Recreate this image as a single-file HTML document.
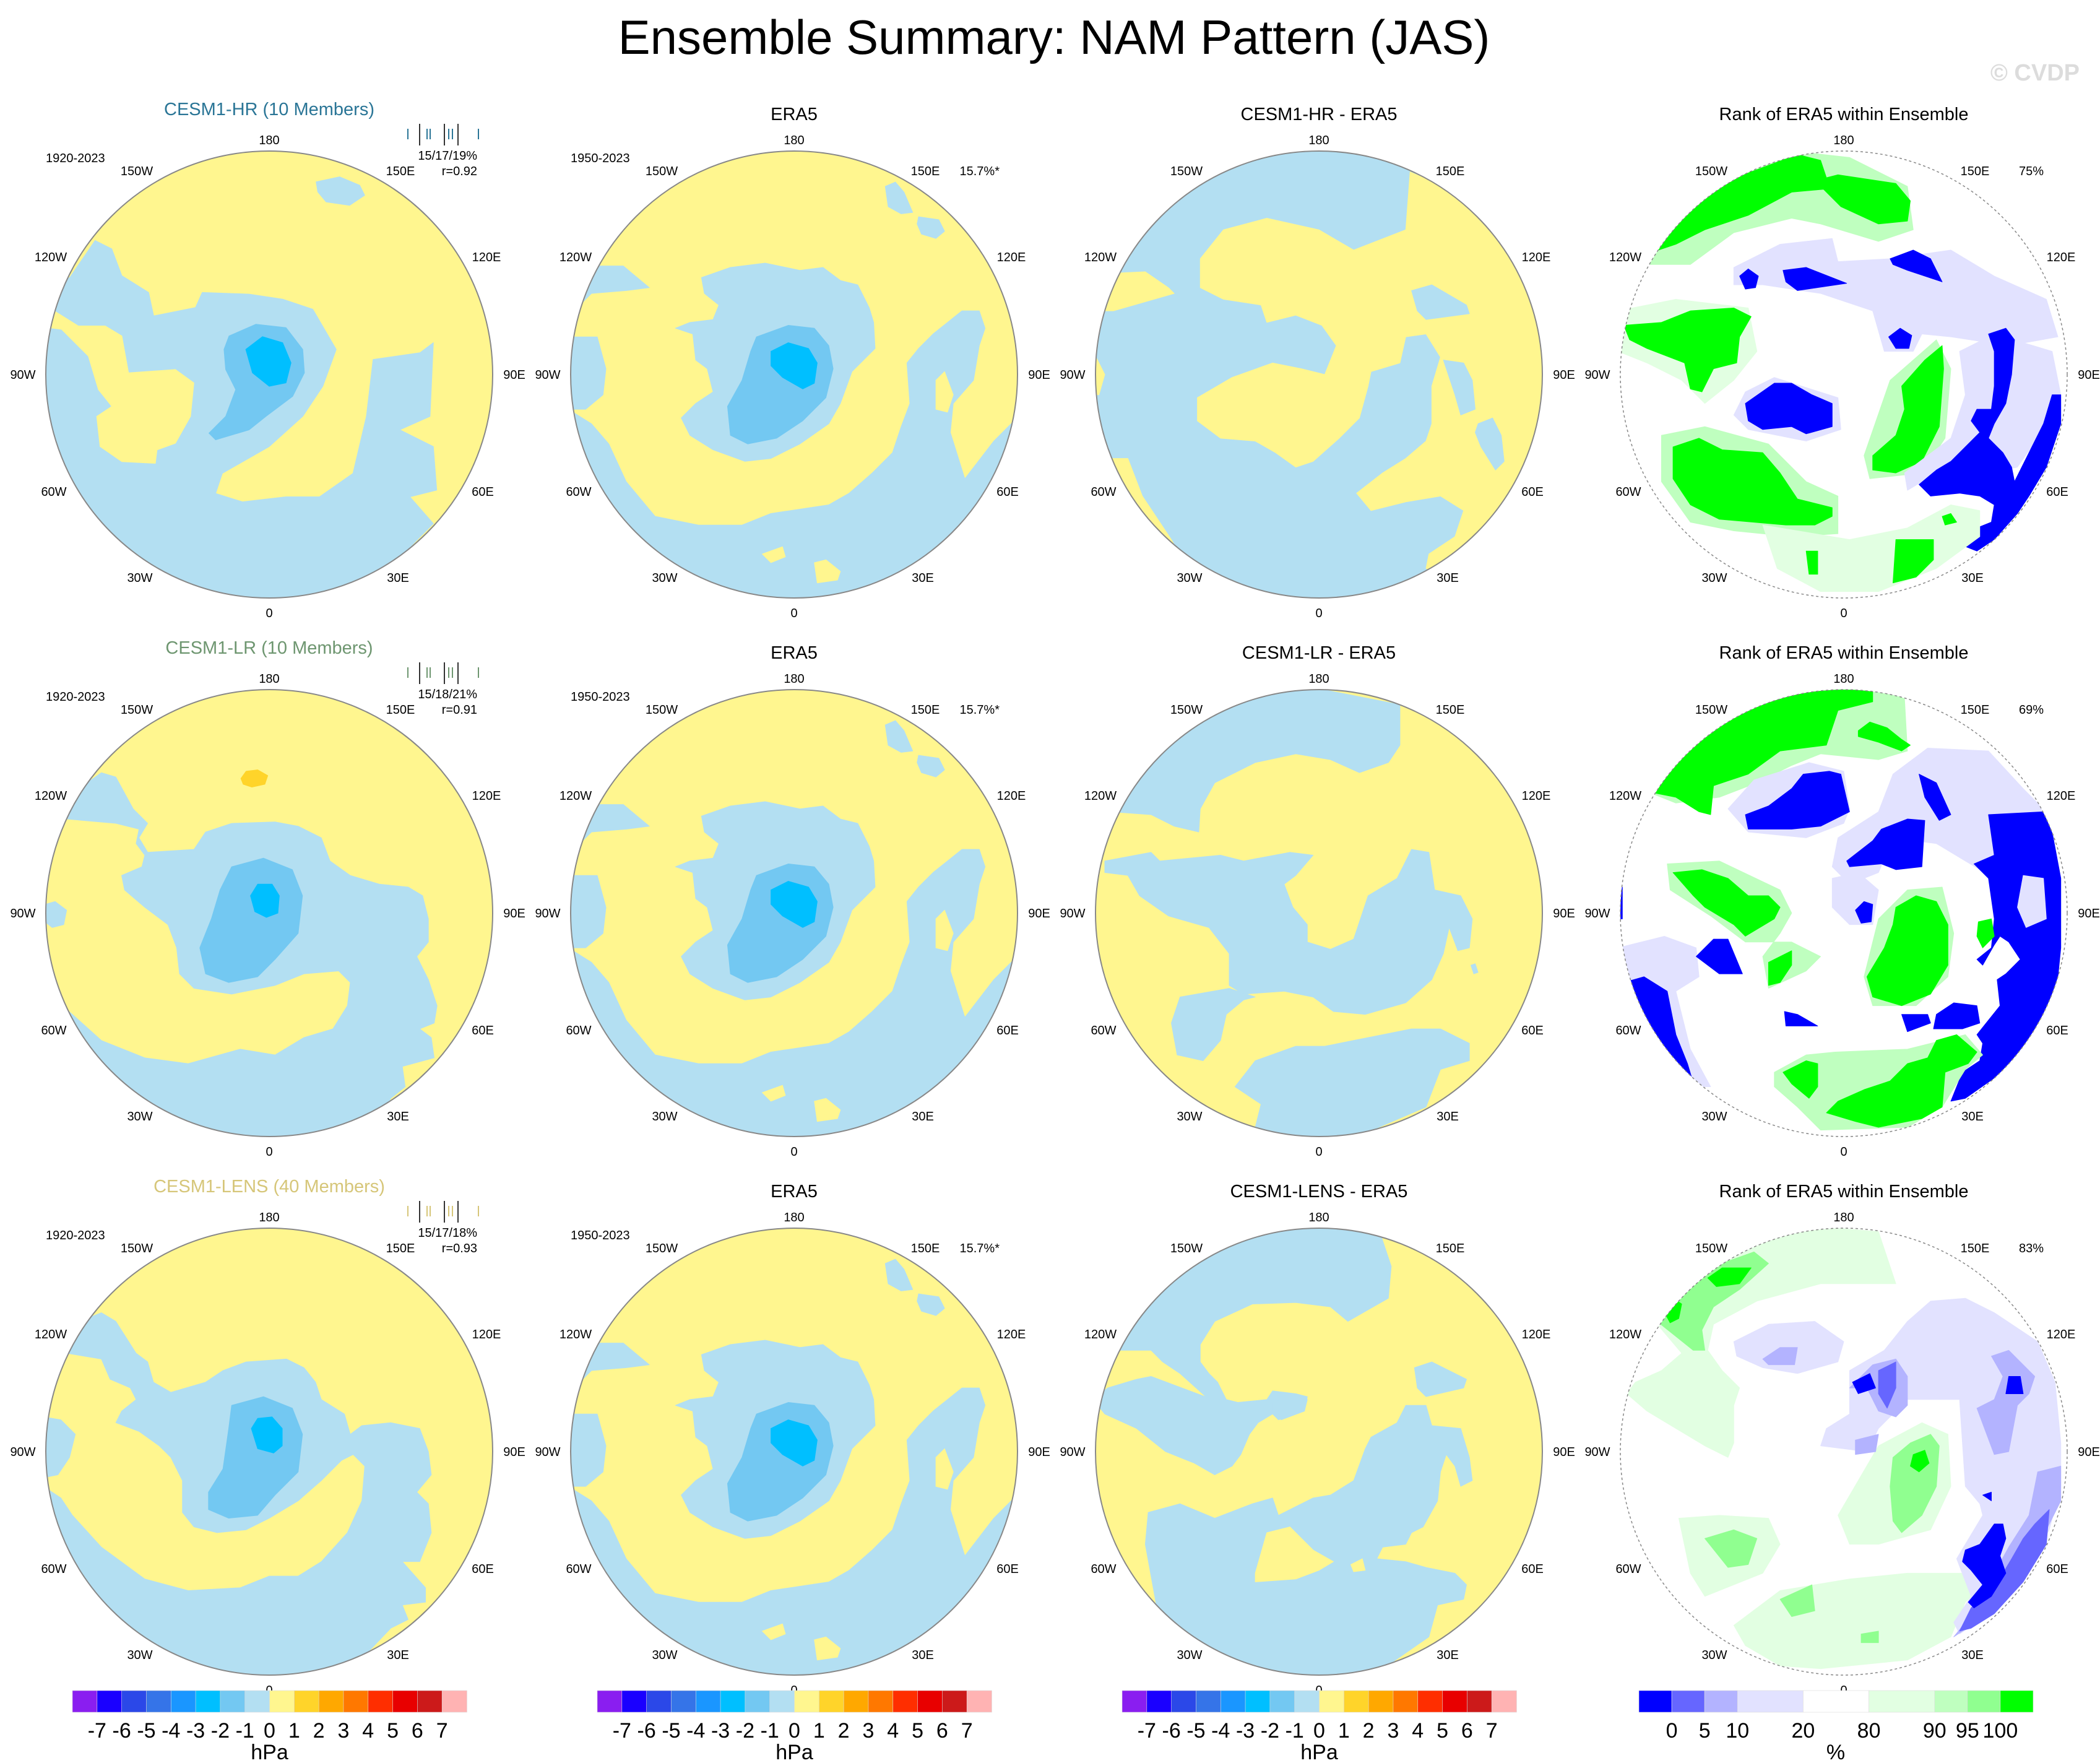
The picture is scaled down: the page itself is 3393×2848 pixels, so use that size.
<!DOCTYPE html>
<html><head><meta charset="utf-8"><title>Ensemble Summary: NAM Pattern (JAS)</title>
<style>
html,body{margin:0;padding:0;background:#fff;}
svg{display:block;}
text{font-family:"Liberation Sans",Arial,sans-serif;}
</style></head>
<body>
<svg id="fig" xmlns="http://www.w3.org/2000/svg" width="3393" height="2848" viewBox="0 0 3393 2848">
<rect x="0" y="0" width="3393" height="2848" fill="#fff"/>
<text x="1703" y="87" font-size="78" text-anchor="middle" fill="#000">Ensemble Summary: NAM Pattern (JAS)</text>
<text x="3360" y="130" font-size="38" font-weight="bold" text-anchor="end" fill="#dcdcdc">© CVDP</text>
</svg>
<script>
// ---- colourbar data ----
const hpaLabels = ["-7","-6","-5","-4","-3","-2","-1","0","1","2","3","4","5","6","7"];
const hpaColors = ["#8a1ef0","#1a00ff","#2b48e8","#3574e8","#1a96ff","#00bfff","#73c8f2","#b3dff2","#fff68f","#ffd42a","#ffa800","#ff7800","#ff2e00","#e80000","#cc1a1a","#ffb3b3"];
const rankLabels = ["0","5","10","20","80","90","95","100"];
const rankColors = ["#0000ff","#6666ff","#b3b3ff","#e2e2ff","#ffffff","#e2ffe2","#bfffbf","#90ff90","#00ff00"];
const rankWeights = [1,1,1,2,2,2,1,1,1];

const Y="#fff68f", B="#b3dff2", M="#73c8f2", C="#00bfff", O="#ffd42a";
const G="#00ff00", G2="#90ff90", G3="#bfffbf", G4="#e2ffe2", L="#e2e2ff", B1="#0000ff", B2="#6666ff", B3="#b3b3ff";

// ---- map region data (zoom-space polygons) ----
const hrModel = [
 [B,"205,545 280,435 330,460 360,540 440,590 455,660 580,635 600,590 740,595 840,610 930,640 1000,760 960,870 900,960 800,1050 660,1130 640,1190 720,1215 850,1200 950,1200 1050,1130 1090,960 1110,790 1250,770 1290,740 1280,960 1190,1000 1290,1050 1300,1180 1220,1200 1290,1280 1220,1350 1400,1500 300,1600 0,800 100,600"],
 [Y,"150,640 230,690 310,690 360,720 380,830 520,820 575,860 565,960 520,1040 465,1060 460,1100 360,1095 295,1050 285,960 330,930 290,880 260,780 180,700 100,690"],
 [B,"940,260 1010,245 1070,270 1085,300 1040,330 970,320 945,290"],
 [M,"680,720 760,685 850,695 900,760 905,830 870,900 790,960 740,1000 640,1030 620,1010 670,960 700,880 670,820 665,760"],
 [C,"730,760 780,722 840,740 865,800 850,860 800,870 750,830"]
];
const era5 = [
 [B,"1095,130 1130,115 1160,150 1190,220 1150,225 1105,200"],
 [B,"1210,235 1280,245 1300,285 1270,310 1220,295 1205,260"],
 [B,"60,405 190,405 280,480 200,490 80,500 40,540"],
 [B,"0,650 100,650 130,760 120,850 60,900 0,900"],
 [B,"0,900 80,950 140,1020 200,1150 300,1270 450,1300 600,1300 700,1260 900,1230 970,1190 1050,1120 1120,1050 1150,960 1180,880 1170,740 1210,690 1260,640 1360,560 1420,560 1440,620 1420,680 1400,800 1330,880 1320,980 1370,1140 1470,1010 1600,880 1600,1600 0,1600"],
 [Y,"1270,800 1300,770 1330,850 1310,910 1270,900"],
 [Y,"670,1400 740,1375 750,1410 700,1430"],
 [Y,"850,1430 890,1420 940,1460 930,1490 860,1500"],
 [B,"460,445 560,410 680,395 800,420 880,410 940,455 1000,470 1040,550 1055,600 1060,690 980,770 940,880 900,950 800,1020 700,1070 610,1080 500,1040 420,990 390,930 440,880 500,840 480,760 440,730 430,640 370,620 420,600 500,590 520,540 470,500"],
 [M,"650,650 760,610 850,620 900,680 915,760 890,860 810,940 720,1000 620,1020 560,990 550,890 600,800 630,700"],
 [C,"700,700 760,670 830,690 860,740 850,810 810,830 740,790 700,750"]
];
const hrDiff = [
 [Y,"1095,80 1300,170 1600,400 1600,1600 1150,1450 1160,1400 1250,1340 1280,1250 1200,1200 1080,1220 960,1250 910,1190 1000,1120 1080,1070 1150,1010 1170,950 1170,820 1200,720 1150,640 1080,650 1060,740 960,770 950,820 920,930 850,1000 760,1080 700,1100 630,1050 560,1010 440,1000 360,940 360,860 480,790 620,740 720,760 800,780 840,680 790,610 700,575 600,600 580,540 450,520 370,480 370,380 450,280 600,240 780,280 900,350 1080,280"],
 [B,"1100,490 1170,470 1290,540 1300,570 1150,590 1120,560"],
 [B,"1210,730 1280,740 1310,800 1320,900 1270,920 1250,850"],
 [B,"1330,950 1380,930 1410,990 1420,1080 1390,1110 1340,1030 1320,980"],
 [Y,"70,430 180,425 260,480 280,500 70,560 0,560 0,470"],
 [Y,"0,700 40,780 20,850 0,850"],
 [Y,"50,1070 120,1070 170,1200 270,1350 310,1420 200,1400 80,1250 0,1100"]
];
const hrRank = [
 [G3,"130,330 250,170 450,60 620,10 800,30 1000,130 1020,280 900,320 700,260 600,240 400,290 250,400 110,400"],
 [G,"110,350 200,220 380,110 620,20 700,40 720,100 760,90 960,120 1010,180 1000,250 900,260 770,200 710,140 600,150 450,230 300,280 200,330 140,350"],
 [L,"400,410 560,330 740,310 760,390 940,380 1150,350 1300,440 1480,520 1520,650 1350,680 1150,650 1050,640 1020,700 920,700 880,560 760,520 700,500 500,470 400,470"],
 [B1,"420,440 450,415 485,440 475,480 440,485"],
 [B1,"570,420 650,410 790,465 620,490 580,460"],
 [B1,"940,380 1020,350 1080,380 1120,460 1000,420 950,400"],
 [B1,"935,650 975,620 1015,645 1005,690 960,690"],
 [L,"400,920 440,840 540,790 760,860 770,970 650,1010 450,970"],
 [B1,"440,880 540,810 600,810 670,850 740,880 740,960 650,985 600,960 500,970 450,940"],
 [G4,"0,560 200,520 450,550 480,700 400,800 300,880 220,800 100,740 0,700"],
 [G,"20,610 150,600 250,560 400,550 460,580 420,650 410,740 330,760 290,840 250,830 230,740 100,690 40,660"],
 [G3,"150,990 300,960 520,1020 650,1150 760,1200 760,1330 600,1340 400,1320 250,1290 150,1150"],
 [G,"190,1030 280,1000 360,1040 500,1050 560,1120 620,1210 740,1240 740,1270 680,1300 580,1300 350,1280 250,1230 190,1140"],
 [G3,"940,800 1100,660 1150,760 1130,1000 1050,1120 870,1140 850,1060"],
 [G,"980,820 1060,730 1120,680 1125,760 1110,960 1050,1080 960,1120 880,1110 880,1060 960,990 990,900"],
 [L,"1180,700 1300,640 1500,700 1530,850 1450,1000 1380,1100 1250,1130 1100,1120 1000,1180 990,1120 1150,1000 1200,850"],
 [B1,"1500,850 1530,850 1530,950 1480,1100 1420,1200 1380,1260 1300,1350 1240,1390 1190,1370 1190,1330 1290,1290 1300,1230 1250,1200 1180,1190 1080,1200 1040,1160 1100,1110 1150,1080 1200,1030 1250,980 1220,940 1240,900 1290,900 1300,820 1300,700 1280,640 1340,620 1370,660 1360,780 1340,880 1300,950 1280,1000 1330,1050 1360,1100 1370,1150 1420,1050 1470,950"],
 [G4,"500,1300 800,1350 1000,1310 1150,1230 1250,1250 1250,1340 1100,1450 900,1530 700,1530 550,1450"],
 [G,"960,1350 1090,1350 1090,1420 1030,1480 950,1500"],
 [G,"650,1390 690,1390 690,1470 660,1470"],
 [G,"1120,1270 1150,1260 1170,1290 1130,1300"]
];
const lrModel = [
 [B,"80,455 150,330 200,295 250,310 310,420 360,470 330,520 360,570 520,560 560,500 650,470 800,465 880,480 960,520 990,600 1060,650 1160,680 1260,690 1310,720 1330,800 1330,880 1290,930 1330,1010 1360,1100 1350,1160 1300,1180 1340,1210 1350,1280 1240,1310 1250,1380 1200,1420 1100,1600 0,1600 0,1050 100,1130 200,1220 350,1280 500,1300 680,1250 800,1270 900,1210 1000,1180 1050,1100 1060,1020 1020,980 900,990 800,1030 650,1060 520,1040 470,990 460,900 430,820 350,760 280,700 270,650 340,620 350,580 320,540 330,490 250,470"],
 [B,"5,750 40,740 80,770 70,820 30,830 5,810"],
 [O,"682,315 700,290 740,285 775,305 765,335 720,345 690,335"],
 [M,"650,620 760,590 860,630 895,720 880,850 800,940 740,1000 640,1020 560,990 540,900 580,800 610,700"],
 [C,"715,720 740,680 790,680 815,720 810,780 770,795 730,775"]
];
const lrDiff = [
 [B,"60,430 150,260 300,120 500,30 780,5 1060,60 1060,200 1020,260 920,295 820,250 700,230 560,260 420,330 370,420 365,500 280,480 200,440"],
 [B,"40,600 200,570 230,600 440,580 520,600 680,570 760,580 700,650 660,680 690,760 740,820 740,880 820,905 900,870 930,780 950,720 1050,660 1100,560 1160,570 1180,700 1270,720 1310,800 1300,900 1260,910 1230,830 1210,920 1170,1010 1080,1090 940,1130 830,1120 760,1070 660,1050 520,1060 470,1030 470,920 400,830 330,810 260,790 160,720 120,650 40,640"],
 [B,"300,1070 470,1040 560,1070 520,1080 460,1130 440,1220 380,1290 290,1270 270,1160"],
 [B,"490,1380 560,1290 700,1240 800,1240 900,1220 1000,1200 1100,1180 1200,1180 1300,1230 1300,1290 1200,1320 1150,1450 800,1600 560,1520 580,1440"],
 [B,"1305,960 1320,955 1330,985 1315,990"]
];
const lrRank = [
 [G3,"100,360 250,180 450,60 650,10 900,0 990,40 1000,220 900,250 700,230 600,270 480,330 350,380 200,400"],
 [G,"100,360 200,230 380,110 600,20 880,0 880,50 760,80 720,200 560,220 450,300 330,340 320,440 280,430 200,380"],
 [G,"830,150 870,120 930,140 980,180 1010,200 980,220 900,190 830,170"],
 [L,"380,420 470,320 660,260 780,290 800,420 780,470 650,520 450,500"],
 [L,"950,300 1070,210 1280,220 1400,350 1500,450 1500,700 1250,630 1100,540 950,520 900,640 800,680 740,620 760,520 900,430"],
 [L,"0,900 160,860 270,900 280,1000 200,1050 250,1250 320,1380 250,1380 0,1100"],
 [L,"740,660 830,640 900,700 880,820 800,820 740,760"],
 [B1,"440,440 520,410 600,350 640,300 730,290 770,300 800,430 700,480 600,490 450,490"],
 [B1,"910,490 1000,455 1060,460 1050,620 960,630 910,610 800,620 790,600 880,530"],
 [B1,"1040,300 1100,330 1150,440 1110,460 1060,380"],
 [B1,"1280,440 1470,430 1500,500 1530,660 1530,900 1520,1000 1450,1200 1380,1300 1300,1350 1200,1420 1150,1430 1190,1330 1250,1290 1260,1230 1240,1200 1320,1100 1310,1010 1340,990 1390,940 1350,880 1320,860 1300,890 1260,960 1240,940 1290,900 1300,800 1280,660 1230,610 1300,580"],
 [L,"1400,650 1470,660 1480,800 1410,830 1380,760"],
 [B1,"1100,1130 1160,1090 1240,1100 1250,1160 1190,1180 1090,1180"],
 [B1,"980,1130 1070,1130 1080,1160 1000,1190"],
 [B1,"20,1020 90,1000 170,1050 200,1200 240,1300 255,1350 240,1360 150,1230 60,1100"],
 [B1,"270,930 330,870 380,870 430,990 350,990"],
 [B1,"575,1120 620,1130 690,1170 580,1170"],
 [B1,"820,770 850,740 880,750 875,810 840,815"],
 [B1,"0,690 15,690 15,800 0,800"],
 [G3,"170,610 350,600 560,700 600,780 560,850 500,930 520,1040 650,980 700,930 600,880 440,880 320,790 180,700"],
 [G,"190,640 290,630 380,660 450,720 520,720 560,760 540,800 440,860 400,820 300,760 260,720"],
 [G,"520,950 600,910 600,960 560,1020 520,1030"],
 [G3,"900,800 1000,700 1120,690 1160,850 1140,1000 1030,1100 880,1100 850,1000"],
 [G,"960,760 1030,720 1100,740 1140,820 1140,960 1080,1060 980,1100 880,1070 860,1000 920,900 950,820"],
 [G,"1245,810 1290,800 1300,860 1260,900 1240,860"],
 [G3,"540,1330 650,1270 750,1260 1000,1250 1200,1200 1260,1270 1200,1320 1120,1450 1000,1520 700,1530 620,1450 540,1380"],
 [G,"1100,1220 1170,1200 1240,1260 1210,1300 1130,1330 1120,1450 1050,1490 900,1520 820,1500 720,1470 760,1430 850,1390 940,1360 1000,1300 1070,1280"],
 [G,"570,1330 650,1290 690,1300 690,1380 660,1420 600,1370"]
];
const lensModel = [
 [B,"80,440 150,320 200,300 250,330 320,440 360,470 380,540 440,575 560,540 620,500 700,470 840,460 900,490 940,540 960,600 1040,650 1060,720 1100,690 1200,680 1300,700 1330,780 1340,860 1290,920 1330,960 1340,1060 1300,1160 1240,1160 1320,1250 1320,1300 1240,1310 1260,1360 1200,1390 1000,1600 0,1600 0,900 60,940 100,1000 200,1110 350,1220 500,1260 680,1250 780,1210 880,1210 960,1160 1050,1060 1100,950 1110,830 1070,790 1030,810 960,880 880,950 780,1010 700,1050 600,1060 520,1040 480,990 480,880 440,800 400,760 330,710 250,680 270,640 320,600 300,560 230,530 200,460"],
 [B,"0,660 60,670 110,720 90,800 50,860 0,870"],
 [M,"650,620 760,590 860,630 895,720 880,850 800,930 740,1000 640,1010 570,980 570,920 620,840 640,700"],
 [C,"718,700 740,665 790,660 825,700 825,760 795,785 740,770"]
];
const lensDiff = [
 [B,"60,430 150,260 300,120 500,30 780,0 990,20 1030,140 1020,250 950,290 880,330 820,280 700,265 550,270 420,330 370,410 370,470 400,510 430,540 460,600 400,600 300,510 240,470 200,430"],
 [B,"0,600 50,560 150,530 200,520 400,595 460,600 500,610 600,600 620,570 700,580 740,600 730,640 640,670 620,650 570,680 540,720 510,790 480,830 420,860 350,820 250,780 150,700 40,650"],
 [B,"190,990 300,960 420,1010 550,960 620,940 640,1000 700,970 760,940 820,930 900,880 940,770 960,730 1050,680 1080,620 1150,620 1170,690 1270,700 1300,800 1310,880 1270,900 1250,830 1220,790 1200,850 1190,950 1140,1040 1100,1060 1080,1100 1000,1110 980,1150 1080,1160 1150,1180 1250,1200 1290,1240 1280,1290 1190,1310 1160,1420 900,1600 300,1600 220,1320 180,1100"],
 [Y,"560,1200 600,1060 680,1040 720,1080 760,1120 830,1160 780,1190 700,1220 560,1230"],
 [Y,"890,1170 930,1150 940,1190 900,1195"],
 [B,"1110,490 1170,470 1290,530 1280,560 1150,590 1120,560"],
 [B,"620,610 700,580 740,590 730,640 650,670 620,650"]
];
const lensRank = [
 [G4,"110,310 200,200 350,110 500,40 660,0 900,20 960,200 700,200 480,260 330,340 310,430 360,500 420,560 400,620 400,750 380,800 300,760 200,700 100,640 30,580 60,540 150,500 220,440"],
 [G2,"110,310 200,230 330,140 470,90 520,130 420,220 330,280 290,360 300,430 260,430"],
 [G,"310,180 360,145 460,145 420,200 340,210"],
 [G,"150,280 190,250 220,270 210,320 180,335"],
 [G4,"210,1010 350,1000 520,1010 560,1100 500,1200 400,1240 300,1280 250,1200"],
 [G2,"300,1080 400,1050 480,1080 450,1170 380,1180"],
 [G4,"400,1380 560,1260 680,1240 800,1220 1000,1200 1200,1200 1270,1230 1200,1300 1150,1420 1000,1500 700,1530 560,1520 440,1450"],
 [G2,"560,1290 670,1240 680,1330 600,1350"],
 [G2,"840,1410 900,1400 900,1440 840,1440"],
 [G4,"760,1000 900,760 1050,680 1140,720 1150,900 1080,1050 900,1100 800,1100"],
 [G2,"950,800 1010,750 1080,720 1110,760 1100,900 1050,1000 980,1060 950,1020 940,900"],
 [G,"1020,790 1060,775 1075,820 1040,850 1010,830"],
 [G,"1245,830 1290,820 1300,860 1260,875"],
 [L,"400,400 520,340 680,330 780,400 760,470 620,510 500,490 410,450"],
 [B3,"500,460 560,420 620,420 610,480 520,480"],
 [L,"1000,330 1080,260 1200,250 1300,300 1450,400 1510,540 1530,750 1530,900 1490,1050 1400,1200 1300,1330 1180,1410 1160,1370 1220,1280 1170,1150 1200,1100 1260,1000 1250,960 1200,900 1180,600 1000,600 900,700 860,780 700,760 720,700 800,650 800,500 920,430"],
 [B3,"800,560 880,480 960,460 1000,520 1000,620 960,660 900,640 860,560"],
 [B2,"900,500 960,470 960,560 930,630 900,580"],
 [B1,"810,540 870,510 890,560 830,580"],
 [B3,"1290,450 1350,430 1440,520 1420,580 1380,620 1350,780 1300,790 1240,630 1300,600 1330,520"],
 [B1,"1350,520 1390,520 1400,580 1340,580"],
 [B3,"1450,850 1530,830 1530,950 1480,1050 1420,1180 1330,1300 1220,1380 1160,1420 1200,1370 1260,1290 1300,1200 1350,1110 1420,1000"],
 [B2,"1440,1030 1490,980 1480,1100 1400,1230 1300,1340 1220,1390 1180,1400 1220,1320 1300,1250 1360,1150 1400,1080"],
 [B1,"1200,1120 1250,1100 1300,1030 1330,1030 1340,1080 1320,1140 1340,1200 1290,1280 1230,1320 1210,1300 1260,1240 1220,1190 1190,1160"],
 [B1,"1260,930 1290,920 1290,950"],
 [B3,"820,740 900,720 890,780 820,790"]
];

// ---- layout ----
const SVGNS="http://www.w3.org/2000/svg";
const svg=document.getElementById('fig');
const colX=[435,1283,2131,2979];
const rowY=[605,1475,2345];
const RR=361;
function mk(tag,attrs,parent){const e=document.createElementNS(SVGNS,tag);for(const k in attrs)e.setAttribute(k,attrs[k]);(parent||svg).appendChild(e);return e;}
function txt(x,y,s,size,anchor,fill,parent){const t=mk('text',{x:x,y:y,'font-size':size,'text-anchor':anchor||'middle',fill:fill||'#000'},parent);t.textContent=s;return t;}

let clipId=0;
function drawPanel(name,cx,cy,zc,zr,bg,shapes,isRank){
  const g=mk('g',{});
  
  
  const id='clip'+(clipId++);
  const cp=mk('clipPath',{id:id},g);
  mk('circle',{cx:cx,cy:cy,r:RR},cp);
  const inner=mk('g',{'clip-path':'url(#'+id+')'},g);
  const bgc=mk('circle',{cx:cx,cy:cy,r:RR,fill:bg},inner);
  
  
  const s=RR/zr;
  const sg=mk('g',{transform:'translate('+cx+','+cy+') scale('+s+') translate('+(-zc[0])+','+(-zc[1])+')'},inner);
  shapes.forEach(function(sh){
    const p=mk('polygon',{points:sh[1],fill:sh[0],'stroke':sh[0],'stroke-width':2,'stroke-linejoin':'round'},sg);
    
    
  });
  const ol=mk('circle',{cx:cx,cy:cy,r:RR,fill:'none',stroke:'#888','stroke-width':isRank?1.5:2,'stroke-dasharray':isRank?'4 4':'none'},g);
  
  
  const labs=[["180",0,-372,"middle"],["150W",-214,-322,"middle"],["150E",212,-322,"middle"],["120W",-353,-183,"middle"],["120E",351,-183,"middle"],["90W",-398,7,"middle"],["90E",396,7,"middle"],["60W",-348,196,"middle"],["60E",345,196,"middle"],["30W",-209,335,"middle"],["30E",208,335,"middle"],["0",0,392,"middle"]];
  labs.forEach(function(l){
    const t=txt(cx+l[1],cy+l[2],l[0],20,l[3],'#000',g);
    
    
  });
  return g;
}

const rowsDef=[
 {model:"CESM1-HR",title:"CESM1-HR (10 Members)",tcol:"#2a7596",stats:"15/17/19%",r:"r=0.92",rank:"75%",m:hrModel,d:hrDiff,dbg:B,k:hrRank,first:true},
 {model:"CESM1-LR",title:"CESM1-LR (10 Members)",tcol:"#6e9670",stats:"15/18/21%",r:"r=0.91",rank:"69%",m:lrModel,d:lrDiff,dbg:Y,k:lrRank},
 {model:"CESM1-LENS",title:"CESM1-LENS (40 Members)",tcol:"#d6c679",stats:"15/17/18%",r:"r=0.93",rank:"83%",m:lensModel,d:lensDiff,dbg:Y,k:lensRank}
];
const std=[780,780], stdR=772;
rowsDef.forEach(function(rw,i){
  const cy=rowY[i];
  const g1=drawPanel('model-pattern-map',colX[0],cy,rw.first?[800,835]:std,rw.first?667:stdR,Y,rw.m,false);
  let t=txt(colX[0],cy-419,rw.title,29,'middle',rw.tcol,g1);
  
  
  t=txt(colX[0]-361,cy-343,"1920-2023",20,'start','#000',g1);
  
  
  t=txt(colX[0]+336,cy-347,rw.stats,20,'end','#000',g1);
  
  
  t=txt(colX[0]+336,cy-322,rw.r,20,'end','#000',g1);
  
  
  const ticks=[[224,0],[243,1],[255,0],[260,0],[283,1],[290,0],[296,0],[305,1],[338,0]];
  ticks.forEach(function(tk){
    const ln=mk('line',{x1:colX[0]+tk[0],x2:colX[0]+tk[0],y1:cy-(tk[1]?405:397),y2:cy-(tk[1]?370:380),stroke:tk[1]?'#333':rw.tcol,'stroke-width':2},g1);
    
    
  });
  const g2=drawPanel('era5-pattern-map',colX[1],cy,std,stdR,Y,era5,false);
  t=txt(colX[1],cy-411,"ERA5",29,'middle','#000',g2);
  
  
  t=txt(colX[1]-361,cy-343,"1950-2023",20,'start','#000',g2);
  
  
  t=txt(colX[1]+332,cy-322,"15.7%*",20,'end','#000',g2);
  
  
  const g3=drawPanel('difference-map',colX[2],cy,std,stdR,rw.dbg,rw.d,false);
  t=txt(colX[2],cy-411,rw.model+" - ERA5",29,'middle','#000',g3);
  
  
  const g4=drawPanel('rank-map',colX[3],cy,std,stdR,'#fff',rw.k,true);
  t=txt(colX[3],cy-411,"Rank of ERA5 within Ensemble",29,'middle','#000',g4);
  
  
  t=txt(colX[3]+323,cy-322,rw.rank,20,'end','#000',g4);
  
  
});

// ---- colourbars ----
const cbY=2731, cbH=35;
for(let c=0;c<3;c++){
  const g=mk('g',{});
  
  
  const x0=117+c*848, w=(754-117)/hpaColors.length;
  hpaColors.forEach(function(col,i){
    const r=mk('rect',{x:x0+i*w,y:cbY,width:w+0.5,height:cbH,fill:col,stroke:'#ddd','stroke-width':0.6},g);
    
    
  });
  hpaLabels.forEach(function(lb,i){
    const t=txt(x0+(i+1)*w,2807,lb,34,'middle','#000',g);
    
    
  });
  const u=txt(x0+8*w,2842,"hPa",34,'middle','#000',g);
  
  
}
{
  const g=mk('g',{});
  
  
  const x0=2648, total=3285-2648;
  const wsum=rankWeights.reduce(function(a,b){return a+b;},0);
  let x=x0; const bounds=[];
  rankColors.forEach(function(col,i){
    const w=total*rankWeights[i]/wsum;
    const r=mk('rect',{x:x,y:cbY,width:w,height:cbH,fill:col,stroke:'#ddd','stroke-width':0.6},g);
    
    
    x+=w; bounds.push(x);
  });
  rankLabels.forEach(function(lb,i){
    const t=txt(bounds[i],2807,lb,34,'middle','#000',g);
    
    
  });
  const u=txt(2966,2842,"%",34,'middle','#000',g);
  
  
}
</script>
</body></html>
